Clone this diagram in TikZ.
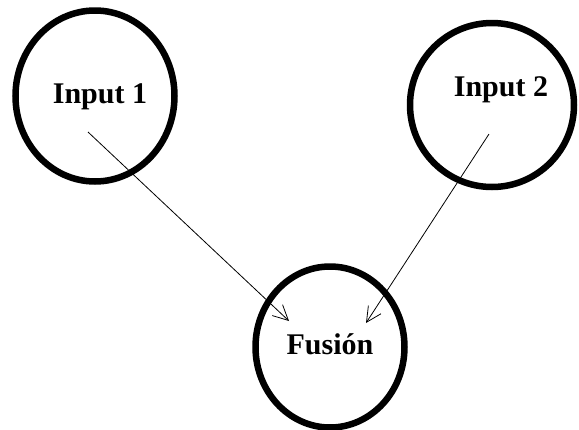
\documentclass[tikz,border=0pt]{standalone}
\usepackage{fontspec}
\setmainfont{Liberation Serif}
\usetikzlibrary{shapes.geometric,arrows.meta}
\tikzset{
  ring/.style={draw, ellipse, line width=6.5pt, inner sep=0pt},
  lbl/.style={font=\fontsize{30}{36}\selectfont\bfseries, inner sep=0pt},
  flow/.style={line width=0.8pt, -{Straight Barb[length=15pt, width=15pt, line width=0.8pt]}}
}
\begin{document}
\begin{tikzpicture}[x=1pt, y=-1pt]
  \useasboundingbox (0,0) rectangle (579,429);
  % the three circles
  \node[ring, minimum width=159pt, minimum height=171pt] (in1) at (95,96) {};
  \node[ring, minimum width=164pt, minimum height=164pt] (in2) at (492,105) {};
  \node[ring, minimum width=149pt, minimum height=161pt] (fus) at (330,347) {};
  % labels
  \node[lbl] (t1) at (100,97) {Input 1};
  \node[lbl] (t2) at (501,90) {Input 2};
  \node[lbl] (t3) at (330,344) {Fusión};
  % arrow end points
  \coordinate (s1) at (88,132);
  \coordinate (e1) at (289,321);
  \coordinate (s2) at (489,134);
  \coordinate (e2) at (366,323);
  \draw[flow] (s1) -- (e1);
  \draw[flow] (s2) -- (e2);
\end{tikzpicture}
\end{document}
